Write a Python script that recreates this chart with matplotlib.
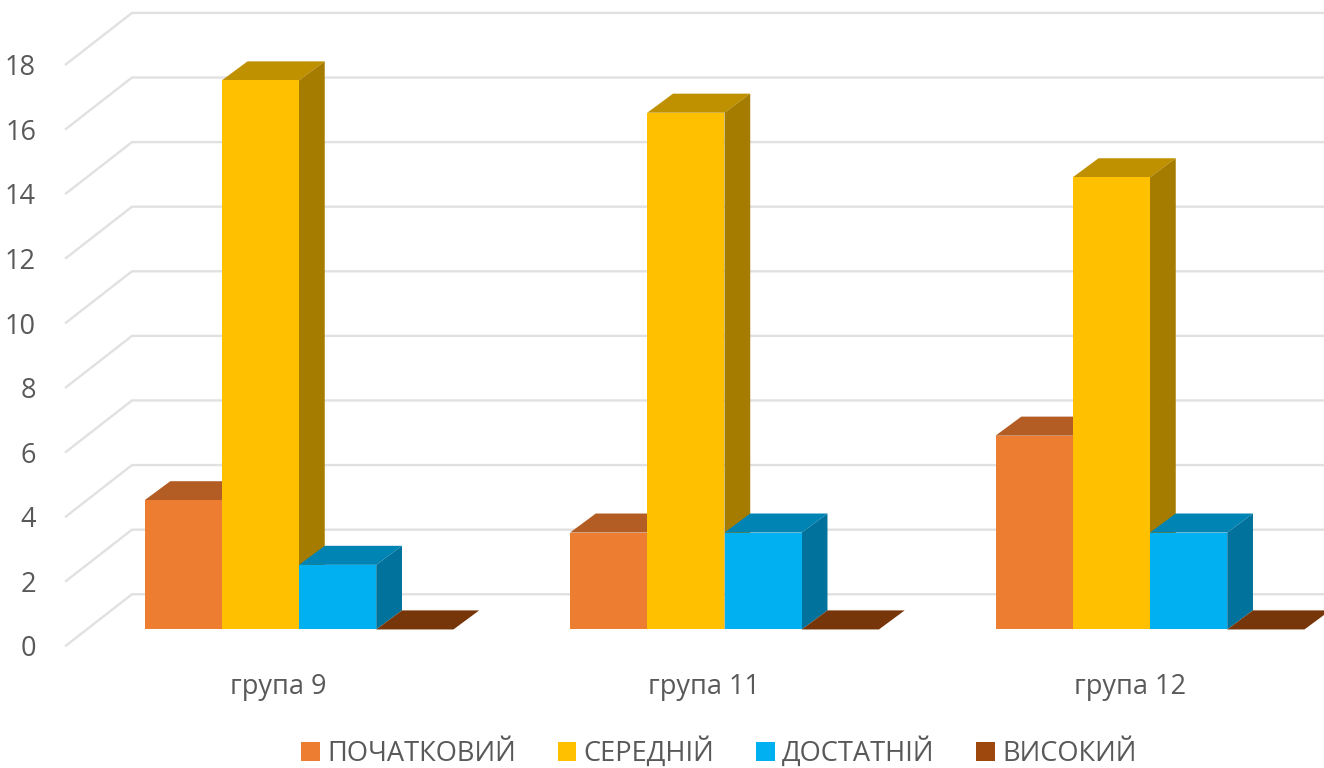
import matplotlib
matplotlib.use("Agg")
import matplotlib.pyplot as plt
from matplotlib.patches import Patch, Polygon

groups = ["група 9", "група 11", "група 12"]
levels = ["ПОЧАТКОВИЙ", "СЕРЕДНІЙ", "ДОСТАТНІЙ", "ВИСОКИЙ"]
pochatkovyi = [4, 3, 6]
serednii = [17, 16, 14]
dostatnii = [2, 3, 3]
vysokyi = [0, 0, 0]
y_ticks = [0, 2, 4, 6, 8, 10, 12, 14, 16, 18]

series = [pochatkovyi, serednii, dostatnii, vysokyi]
front_colors = ["#ED7D31", "#FFC000", "#00B0F0", "#9E480E"]
top_colors = ["#B35D25", "#BF9000", "#0084B4", "#773609"]
side_colors = ["#9E5225", "#A67C00", "#00729C", "#692F08"]

# axes fill the whole figure, one x unit is one group, one y unit is one value
plt.rcParams["font.family"] = ["Open Sans", "DejaVu Sans"]
fig = plt.figure(figsize=(13.24, 7.68), dpi=100)
ax = fig.add_axes([0, 0, 1, 1])
ax.set_xlim(-299 / 425.5, 1025 / 425.5)
ax.set_ylim(-4.29, 19.49)
ax.axis("off")

bar_w = 0.1815
depth_x, depth_y = 0.0605, 0.59
wall_x0, wall_x1, wall_x2 = -0.5476, -0.3925, 2.41
floor_front, floor_back = -0.5, 1.09

for v in y_ticks:
    ax.plot([wall_x0, wall_x1, wall_x2], [v + floor_front, v + floor_back, v + floor_back],
            color="#E1E1E1", lw=1.7, solid_joinstyle="miter", zorder=1)
    ax.text(-0.618, v + floor_front - 0.12, str(v), ha="right", va="center",
            fontsize=19.5, color="#595959")

for i, group in enumerate(groups):
    left = i - 2 * bar_w
    for vals, front, top, side in zip(series, front_colors, top_colors, side_colors):
        h = vals[i]
        right = left + bar_w
        ax.add_patch(Polygon([(left, h), (left + depth_x, h + depth_y),
                              (right + depth_x, h + depth_y), (right, h)],
                             facecolor=top, edgecolor="none", zorder=2))
        if h > 0:
            ax.add_patch(Polygon([(right, 0), (right + depth_x, depth_y),
                                  (right + depth_x, h + depth_y), (right, h)],
                                 facecolor=side, edgecolor="none", zorder=2))
            ax.bar(left, h, width=bar_w, align="edge", color=front, zorder=2)
        left = right
    ax.text(i - 0.048, -1.78, group, ha="center", va="center", fontsize=19.5, color="#595959")

handles = [Patch(facecolor=c, edgecolor="none") for c in front_colors]
ax.legend(handles, levels, loc="center", bbox_to_anchor=(719 / 1324, 1 - 753 / 768),
          ncol=4, frameon=False, fontsize=19.6, labelcolor="#595959",
          handlelength=0.68, handleheight=0.68, handletextpad=0.28, columnspacing=1.52)

fig.savefig("out.png", dpi=100)
